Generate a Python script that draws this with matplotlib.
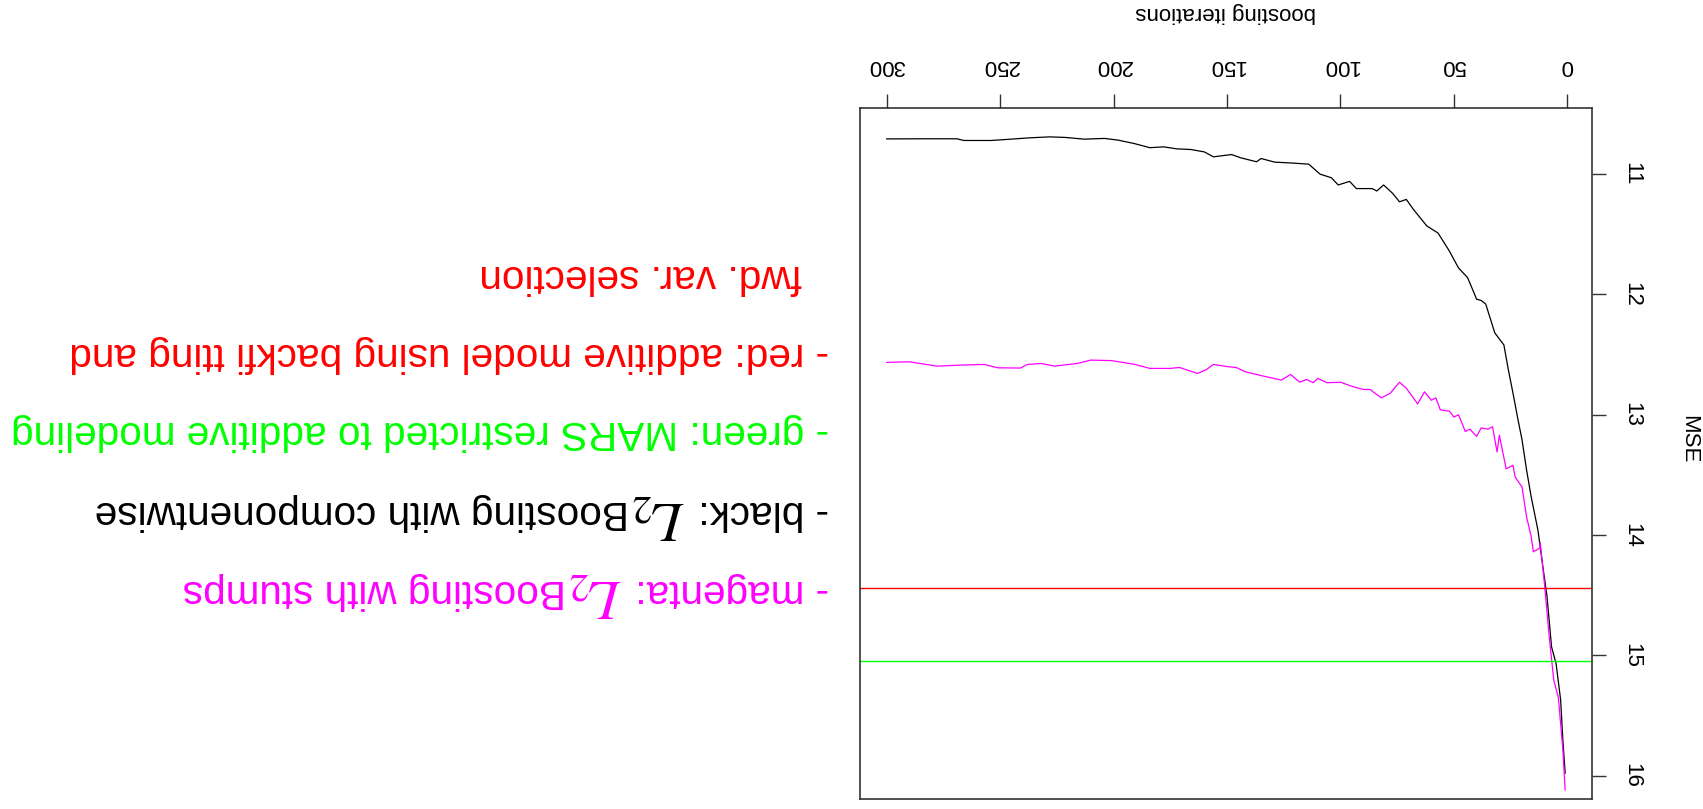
"""
MSE 随 boosting 迭代次数变化的曲线图（整幅图倒置显示）
"""
import matplotlib
matplotlib.use('Agg')
import matplotlib.pyplot as plt

plt.rcParams['font.family'] = ['Liberation Sans', 'DejaVu Sans']
plt.rcParams['mathtext.fontset'] = 'stix'

# L2Boosting (componentwise) 的测试误差
black_iter = [1, 2, 3, 5, 7, 9, 11, 13, 16, 18, 20, 22, 24, 26, 28, 30, 32, 34,
              36, 38, 40, 42, 44, 48, 52, 57, 62, 68, 71, 74, 77, 81, 84, 86, 89,
              93, 96, 101, 104, 109, 114, 121, 129, 135, 137, 144, 148, 156, 160,
              166, 172, 178, 184, 191, 198, 204, 213, 221, 228, 237, 246, 254,
              266, 269, 287, 300]
black_mse = [15.98, 15.71, 15.37, 15.07, 14.93, 14.51, 14.24, 13.96, 13.68, 13.46,
             13.21, 13.02, 12.82, 12.63, 12.42, 12.37, 12.32, 12.20, 12.08, 12.05,
             12.04, 11.95, 11.86, 11.78, 11.64, 11.49, 11.43, 11.29, 11.21, 11.23,
             11.16, 11.09, 11.14, 11.12, 11.12, 11.12, 11.06, 11.09, 11.03, 11.00,
             10.917, 10.908, 10.90, 10.87, 10.897, 10.864, 10.837, 10.856, 10.815,
             10.795, 10.79, 10.773, 10.78, 10.745, 10.717, 10.703, 10.709, 10.695,
             10.69, 10.698, 10.71, 10.72, 10.72, 10.706, 10.706, 10.707]

# L2Boosting with stumps 的测试误差
magenta_iter = [1, 2, 4, 6, 8, 10, 12, 12.3, 15, 16, 18, 20, 23, 24, 27, 30, 31,
                33, 35, 38, 40, 43, 45, 48, 50, 52, 56, 58, 60, 63, 66, 71, 74, 78,
                82, 87, 90, 94, 100, 106, 110, 112, 115, 118, 122, 126, 134, 142,
                146, 150, 156, 159, 163, 171, 175, 184, 191, 201, 210, 216, 226,
                232, 238, 241, 251, 257, 268, 278, 290, 300]
magenta_mse = [16.12, 15.79, 15.35, 15.21, 14.85, 14.43, 14.06, 14.11, 14.14, 14.01,
               13.85, 13.60, 13.52, 13.42, 13.45, 13.17, 13.31, 13.10, 13.12, 13.11,
               13.18, 13.12, 13.14, 13.00, 13.02, 12.97, 12.96, 12.86, 12.88, 12.81,
               12.91, 12.78, 12.73, 12.82, 12.86, 12.79, 12.79, 12.77, 12.73, 12.734,
               12.698, 12.734, 12.707, 12.73, 12.665, 12.712, 12.679, 12.643, 12.607,
               12.60, 12.582, 12.624, 12.657, 12.607, 12.615, 12.615, 12.58, 12.55,
               12.546, 12.574, 12.596, 12.574, 12.582, 12.612, 12.61, 12.582,
               12.588, 12.596, 12.56, 12.565]

# 两个参照模型的 MSE（水平线）
red_mse = 14.44
green_mse = 15.05

x_ticks = [0, 50, 100, 150, 200, 250, 300]
y_ticks = [11, 12, 13, 14, 15, 16]

# 每行说明文字拆成若干段，公式段单独放大
legend_lines = [
    (['- magenta:', '$L_2$', 'Boosting with stumps'], 'magenta'),
    (['- black:', '$L_2$', 'Boosting with componentwise'], 'black'),
    (['- green: MARS restricted to additive modeling'], '#00ff00'),
    (['- red: additive model using backfi tting and'], 'red'),
    (['fwd. var. selection'], 'red'),
]

W, H = 1703, 809
TEXT_SIZE = 29.2
MATH_SIZE = 40

fig = plt.figure(figsize=(W / 100, H / 100), dpi=100)
box_l, box_r, box_t, box_b = 859.5, 1592.3, 108, 799
ax = fig.add_axes([box_l / W, 1 - box_b / H, (box_r - box_l) / W, (box_b - box_t) / H])

ax.plot(black_iter, black_mse, color='black', lw=0.9)
ax.plot(magenta_iter, magenta_mse, color='magenta', lw=0.9)
ax.axhline(red_mse, color='red', lw=1.0)
ax.axhline(green_mse, color='#00ff00', lw=1.0)

# 坐标轴倒置：0 在右，MSE 小的在上
ax.set_xlim(311.96, -10.96)
ax.set_ylim(16.195, 10.45)

for s in ax.spines.values():
    s.set_color('#333333')
    s.set_linewidth(1.2)

ax.xaxis.tick_top()
ax.xaxis.set_label_position('top')
ax.yaxis.tick_right()
ax.yaxis.set_label_position('right')
ax.set_xticks(x_ticks)
ax.set_yticks(y_ticks)
ax.tick_params(axis='both', direction='out', length=10, width=1.0, color='#333333')
ax.tick_params(axis='x', pad=13, labelsize=16, labelrotation=180)
ax.tick_params(axis='y', pad=11, labelsize=16, labelrotation=270)
for lab in ax.get_yticklabels():
    lab.set_va('center')

ax_h = box_b - box_t
ax.set_xlabel('boosting iterations', fontsize=16, rotation=180, va='center')
ax.xaxis.set_label_coords(0.5, 1 + (box_t - 13) / ax_h)
ax.set_ylabel('MSE', fontsize=16, rotation=270, va='center')
ax.yaxis.set_label_coords(1 + (1689 - box_r) / (box_r - box_l), 0.52)

# 左侧倒置的说明文字，逐段向左拼接
renderer = fig.canvas.get_renderer()
text_x = [829, 829, 829, 829, 802]
text_y = [580, 501, 421, 343, 265]
em = TEXT_SIZE * 100 / 72
for (parts, col), tx, ty in zip(legend_lines, text_x, text_y):
    x = tx
    for i, piece in enumerate(parts):
        size = MATH_SIZE if piece.startswith('$') else TEXT_SIZE
        t = fig.text(x / W, 1 - ty / H, piece, color=col, fontsize=size,
                     rotation=180, rotation_mode='anchor', ha='left', va='baseline')
        x -= t.get_window_extent(renderer).width
        if i == 0 and len(parts) > 1:
            x -= 0.36 * em
        elif piece.startswith('$'):
            x -= 0.08 * em

fig.savefig('out.png', dpi=100)
